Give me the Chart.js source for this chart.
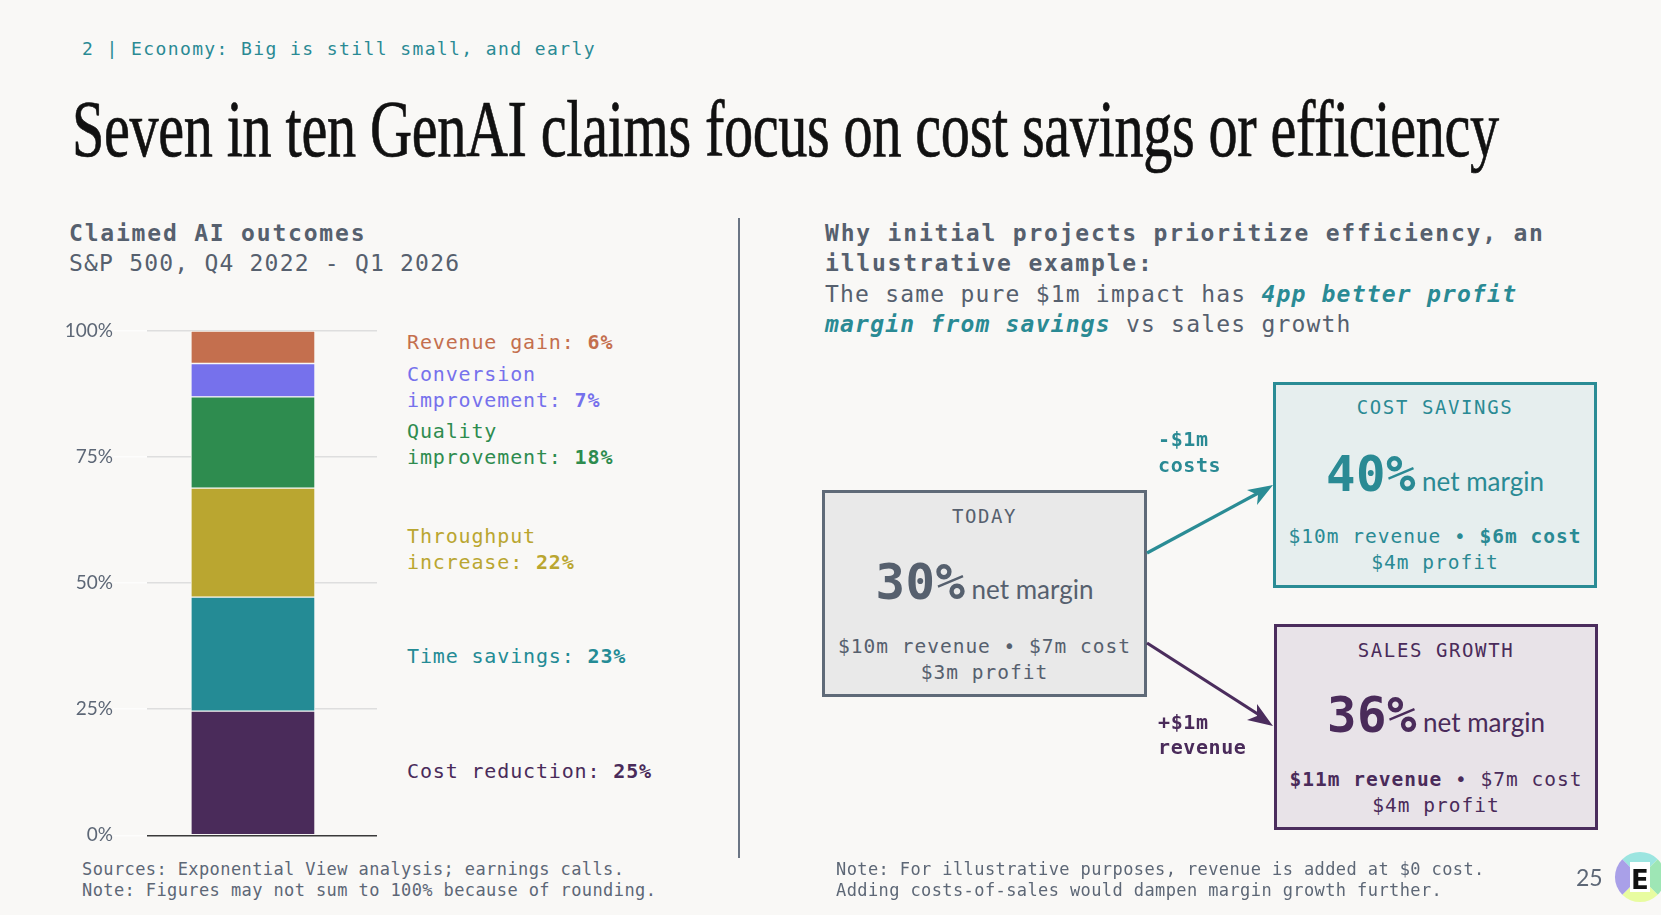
<!DOCTYPE html>
<html>
<head>
<meta charset="utf-8">
<title>Seven in ten GenAI claims focus on cost savings or efficiency</title>
<script src="https://cdn.jsdelivr.net/npm/chart.js@4.4.1/dist/chart.umd.min.js"></script>
<style>
  html, body { margin: 0; padding: 0; }
  body {
    width: 1661px; height: 915px; position: relative; overflow: hidden;
    background: #f9f8f6; color: #56606e;
    font-family: "DejaVu Sans Mono", "Liberation Mono", monospace;
  }
  .t { position: absolute; white-space: nowrap; transform: translateY(-50%); line-height: 1.25; }
  .b { font-weight: bold; }
  #kicker { left: 82px; top: 49px; font-size: 18px; letter-spacing: 1.4px; color: #2a8a94; }
  #title {
    position: absolute; left: 72px; top: 89px; white-space: nowrap;
    font-family: "Liberation Serif", serif; font-size: 80px; line-height: 80px;
    color: #111; transform-origin: 0 0; letter-spacing: -0.5px;
    -webkit-text-stroke: 0.7px #111;
  }
  .head { font-size: 23px; letter-spacing: 1.2px; }
  .head.b { letter-spacing: 1.8px; }
  .body2 { font-size: 23px; letter-spacing: 1.2px; }
  .lbl { font-size: 20px; letter-spacing: 0.85px; left: 407px; }
  .foot { font-size: 17px; letter-spacing: 0.4px; color: #5d6776; }
  #divider { position: absolute; left: 738px; top: 218px; width: 1.5px; height: 640px; background: #6b7584; }
  #barWrap { position: absolute; left: 40px; top: 310px; width: 360px; height: 540px; }
  .box { position: absolute; box-sizing: border-box; border: 3px solid; }
  .box .c { position: absolute; left: 0; right: 0; text-align: center; white-space: nowrap; transform: translateY(-50%); line-height: 1.25; }
  .box .cap { font-size: 19px; letter-spacing: 1.6px; }
  .box .big { line-height: 1; transform: none; }
  .box .big .n { font-family: "DejaVu Sans Mono", monospace; font-weight: bold; font-size: 49px; letter-spacing: 0.5px; }
  .box .big .m { font-family: Lato, "Noto Sans", sans-serif; font-size: 26px; margin-left: 6px; }
  .box .ln { font-size: 19.5px; letter-spacing: 1px; }
  .alab { font-size: 20px; letter-spacing: 0.6px; font-weight: bold; left: 1158px; }
  #page { left: 1576px; top: 877px; font-family: Lato, sans-serif; font-size: 23px; color: #5d6776; }
</style>
</head>
<body>

<div id="kicker" class="t">2 | Economy: Big is still small, and early</div>
<div id="title">Seven in ten GenAI claims focus on cost savings or efficiency</div>

<div class="t head b" style="left:69px; top:233px;">Claimed AI outcomes</div>
<div class="t head" style="left:69px; top:263px;">S&amp;P 500, Q4 2022 - Q1 2026</div>

<div id="barWrap"><canvas id="outcomes"></canvas></div>
<div id="labels"></div>

<div class="t foot" style="left:82px; top:870px;">Sources: Exponential View analysis; earnings calls.</div>
<div class="t foot" style="left:82px; top:891px;">Note: Figures may not sum to 100% because of rounding.</div>

<div id="divider"></div>

<div class="t head b" style="left:825px; top:233px;">Why initial projects prioritize efficiency, an</div>
<div class="t head b" style="left:825px; top:263px;">illustrative example:</div>
<div class="t body2" style="left:825px; top:294px;">The same pure $1m impact has <b><i style="color:#2a8a94">4pp better profit</i></b></div>
<div class="t body2" style="left:825px; top:324px;"><b><i style="color:#2a8a94">margin from savings</i></b> vs sales growth</div>

<!-- scenario boxes -->
<div class="box" style="left:822px; top:490px; width:325px; height:207px; background:#e9e9e9; border-color:#5f6a78; color:#56606e;">
  <div class="c cap" style="top:24px;">TODAY</div>
  <div class="c big" style="top:65px;"><span class="n">30%</span><span class="m">net margin</span></div>
  <div class="c ln" style="top:154px;">$10m revenue • $7m cost</div>
  <div class="c ln" style="top:180px;">$3m profit</div>
</div>
<div class="box" style="left:1273px; top:382px; width:324px; height:206px; background:#e6eeee; border-color:#2a8c95; color:#2a8a94;">
  <div class="c cap" style="top:22.5px;">COST SAVINGS</div>
  <div class="c big" style="top:65px;"><span class="n">40%</span><span class="m">net margin</span></div>
  <div class="c ln" style="top:152px;">$10m revenue • <b>$6m cost</b></div>
  <div class="c ln" style="top:178px;">$4m profit</div>
</div>
<div class="box" style="left:1274px; top:624px; width:324px; height:206px; background:#e8e3e8; border-color:#4b2d5d; color:#4a2b5a;">
  <div class="c cap" style="top:23.5px;">SALES GROWTH</div>
  <div class="c big" style="top:64px;"><span class="n">36%</span><span class="m">net margin</span></div>
  <div class="c ln" style="top:153px;"><b>$11m revenue</b> • $7m cost</div>
  <div class="c ln" style="top:179px;">$4m profit</div>
</div>

<svg style="position:absolute; left:0; top:0; pointer-events:none;" width="1661" height="915">
  <line x1="1147" y1="553" x2="1262" y2="491" stroke="#2a8c95" stroke-width="3.2"/>
  <path d="M1273,485 L1247,490 L1258,495 L1257,505 Z" fill="#2a8c95"/>
  <line x1="1147" y1="643" x2="1264" y2="718" stroke="#4b2d5d" stroke-width="3.2"/>
  <path d="M1273,726 L1257,704 L1257,716 L1247,720 Z" fill="#4b2d5d"/>
  <!-- logo -->
  <g>
    <path d="M1640,877 L1622.3,859.3 A25,25 0 0 1 1657.7,859.3 Z" fill="#9ce5e0"/>
    <path d="M1640,877 L1657.7,859.3 A25,25 0 0 1 1657.7,894.7 Z" fill="#9ee6b5"/>
    <path d="M1640,877 L1657.7,894.7 A25,25 0 0 1 1622.3,894.7 Z" fill="#e8fca0"/>
    <path d="M1640,877 L1622.3,894.7 A25,25 0 0 1 1622.3,859.3 Z" fill="#a9a0e8"/>
    <rect x="1630" y="862" width="20" height="30" fill="#ffffff"/>
    <text x="1640" y="889" text-anchor="middle" font-family="DejaVu Sans" font-weight="bold" font-size="26" fill="#111">E</text>
  </g>
</svg>

<div class="t alab" style="top:439px; color:#2a8a94;">-$1m</div>
<div class="t alab" style="top:465px; color:#2a8a94;">costs</div>
<div class="t alab" style="top:722px; color:#4a2b5a;">+$1m</div>
<div class="t alab" style="top:747px; color:#4a2b5a;">revenue</div>

<div class="t foot" style="left:836px; top:870px;">Note: For illustrative purposes, revenue is added at $0 cost.</div>
<div class="t foot" style="left:836px; top:891px;">Adding costs-of-sales would dampen margin growth further.</div>
<div id="page" class="t">25</div>

<script>
// Claimed AI outcomes, share of claims (%), bottom of the stack first
const categories = ['Cost reduction', 'Time savings', 'Throughput increase', 'Quality improvement', 'Conversion improvement', 'Revenue gain'];
const shares = [24.6, 22.6, 21.6, 18.1, 6.6, 6.4];
const printedShares = [25, 23, 22, 18, 7, 6];
const colors = ['#4a2b5a', '#248b95', '#baa630', '#2e8c4f', '#7671ec', '#c46f4e'];
const yTickStep = 25;

const BG = '#f9f8f6';

// fit the condensed serif title to its width in the slide
const title = document.getElementById('title');
title.style.transform = 'scaleX(' + (1427 / title.scrollWidth) + ')';

// labels next to the bar (first-line centre, px)
const labelTops = [771, 656, 536, 431, 374, 342];
const twoLine = ['Throughput increase', 'Quality improvement', 'Conversion improvement'];
const labelBox = document.getElementById('labels');
categories.forEach((name, i) => {
    let lines = [name + ': '];
    if (twoLine.includes(name)) {
        const cut = name.indexOf(' ');
        lines = [name.slice(0, cut), name.slice(cut + 1) + ': '];
    }
    lines.forEach((txt, j) => {
        const d = document.createElement('div');
        d.className = 't lbl';
        d.style.top = (labelTops[i] + j * 25.5) + 'px';
        d.style.color = colors[i];
        d.textContent = txt;
        if (j === lines.length - 1) {
            const v = document.createElement('b');
            v.textContent = printedShares[i] + '%';
            d.appendChild(v);
        }
        labelBox.appendChild(d);
    });
});

const ctx = document.getElementById('outcomes').getContext('2d');
const outcomesChart = new Chart(ctx, {
    type: 'bar',
    data: {
        datasets: categories.map((name, i) => ({
            label: name,
            data: [{ x: 0, y: shares[i] }],
            backgroundColor: colors[i],
            borderColor: BG,
            borderWidth: 1,
            borderSkipped: false,
            barThickness: 124,
            stack: 'outcomes'
        }))
    },
    options: {
        responsive: true,
        maintainAspectRatio: false,
        animation: false,
        layout: { padding: { top: 20.7, right: 23, bottom: 14.7, left: 0 } },
        plugins: { legend: { display: false }, tooltip: { enabled: false } },
        scales: {
            // single bar sits a little left of the plot centre
            x: { type: 'linear', display: false, min: -0.441, max: 0.559 },
            y: {
                stacked: true,
                min: 0,
                max: 100,
                afterFit: (scale) => { scale.width = 107; },
                border: { display: false },
                grid: {
                    drawTicks: true,
                    tickLength: 34,
                    tickColor: 'rgba(255,255,255,0.7)',
                    lineWidth: 1.5,
                    color: (c) => (c.tick && c.tick.value === 0) ? '#3a3a3a' : '#dedede'
                },
                ticks: {
                    stepSize: yTickStep,
                    padding: 0,
                    color: '#5d6776',
                    font: { family: 'Lato', size: 19 },
                    callback: (v) => v + '%'
                }
            }
        }
    }
});
</script>
</body>
</html>
